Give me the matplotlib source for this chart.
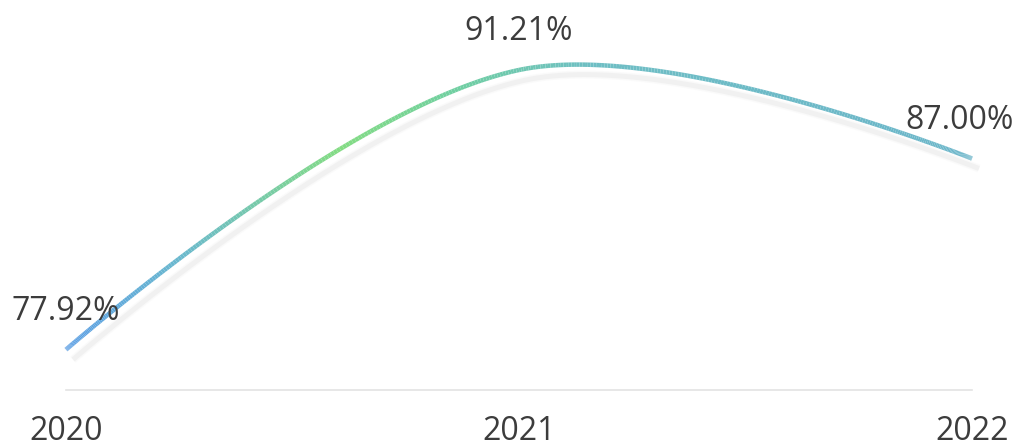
import numpy as np
import matplotlib
matplotlib.use("Agg")
import matplotlib.pyplot as plt
from matplotlib.collections import LineCollection
from matplotlib.colors import LinearSegmentedColormap

years = [2020, 2021, 2022]
values = [77.92, 91.21, 87.00]
labels = ["77.92%", "91.21%", "87.00%"]
tick_labels = ["2020", "2021", "2022"]

plt.rcParams['font.family'] = ['Open Sans', 'DejaVu Sans']

W, H = 1019, 446
fig = plt.figure(figsize=(W / 100, H / 100), dpi=100)
ax = fig.add_axes([66 / W, (H - 390) / H, (972 - 66) / W, (390 - 40) / H])
ax.set_xlim(2020, 2022)
ax.set_ylim(76, 76 + 350 / 21.04)

for s in ['top', 'right', 'left']:
    ax.spines[s].set_visible(False)
ax.spines['bottom'].set_color('#e3e3e3')
ax.spines['bottom'].set_linewidth(1.2)
ax.set_yticks([])
ax.set_xticks(years)
ax.set_xticklabels(tick_labels)
ax.tick_params(axis='x', length=0, pad=18, labelsize=23, labelcolor='#3c3c3c')

# smooth curve (ECharts-like cardinal bezier) computed in display space
fig.canvas.draw()
P = ax.transData.transform(np.column_stack([years, values]))
smooth = 0.36
n = len(P)
cps_out, cps_in = [None] * n, [None] * n
for i in range(n):
    if i == 0 or i == n - 1:
        cps_out[i] = P[i].copy()
        cps_in[i] = P[i].copy()
        continue
    v = P[i + 1] - P[i - 1]
    d0 = np.linalg.norm(P[i] - P[i - 1])
    d1 = np.linalg.norm(P[i + 1] - P[i])
    cps_in[i] = P[i] - v * smooth * d0 / (d0 + d1)
    cps_out[i] = P[i] + v * smooth * d1 / (d0 + d1)

pts = []
t = np.linspace(0, 1, 200)[:, None]
for i in range(n - 1):
    p0, p1, p2, p3 = P[i], cps_out[i], cps_in[i + 1], P[i + 1]
    seg = (1 - t) ** 3 * p0 + 3 * (1 - t) ** 2 * t * p1 + 3 * (1 - t) * t ** 2 * p2 + t ** 3 * p3
    pts.append(seg if i == 0 else seg[1:])
disp = np.vstack(pts)
inv = ax.transData.inverted()

# shadow
for lw, a in [(8, 0.25), (5, 0.7)]:
    sh = inv.transform(disp + np.array([7, -10]))
    ax.plot(sh[:, 0], sh[:, 1], color='#eeeeee', lw=lw * 0.72, alpha=a,
            solid_capstyle='butt', zorder=1, clip_on=False)

data = inv.transform(disp)
segs = np.stack([data[:-1], data[1:]], axis=1)
frac = (disp[:-1, 0] - disp[0, 0]) / (disp[-1, 0] - disp[0, 0])
cmap = LinearSegmentedColormap.from_list('g', [
    (0.0, '#5a9ee4'),
    (0.12, '#6ab8cf'),
    (0.3, '#84dc84'),
    (0.43, '#70cfa2'),
    (0.58, '#6ebec4'),
    (1.0, '#6cb6ca'),
])
lc = LineCollection(segs, colors=cmap(frac), linewidths=4.5 * 0.72,
                    capstyle='butt', zorder=3, clip_on=False)
ax.add_collection(lc)

offsets = [(0, 0), (0, 0), (-12, 0)]
for x, y, lab, (dx, _) in zip(years, values, labels, offsets):
    ax.annotate(lab, (x, y), xytext=(dx, 22), textcoords='offset pixels',
                ha='center', va='bottom', fontsize=23, color='#3c3c3c',
                annotation_clip=False)

fig.savefig('out.png', dpi=100, facecolor='white')
